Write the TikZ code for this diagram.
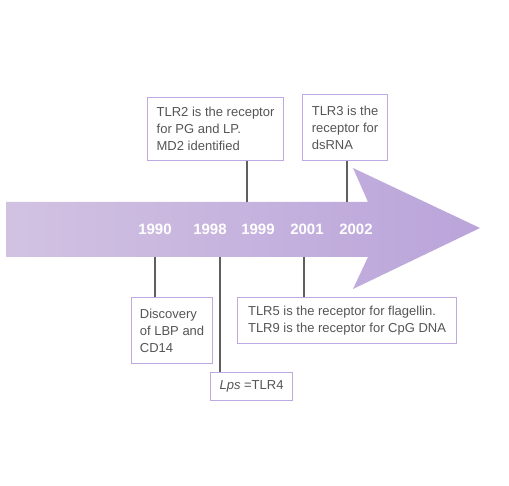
\documentclass[tikz,border=0pt]{standalone}
\usepackage{fontspec}
\setmainfont{Liberation Sans}
\definecolor{boxc}{RGB}{192,168,226}
\definecolor{linec}{RGB}{95,95,95}
\definecolor{txtc}{RGB}{85,85,85}
\definecolor{arrL}{RGB}{210,194,226}
\definecolor{arrM}{RGB}{206,166,220}
\definecolor{arrR}{RGB}{186,164,218}
\tikzset{
  note/.style={draw=boxc, line width=1.1pt, fill=white, anchor=north west, align=left,
    inner sep=0pt, font=\fontsize{13}{17}\selectfont, text=txtc},
  yearlbl/.style={text=white, font=\bfseries\fontsize{15}{16}\selectfont, inner sep=0pt},
  tick/.style={draw=linec, line width=1.4pt}
}
\begin{document}
\begin{tikzpicture}[x=1pt,y=-1pt]
\useasboundingbox (0,0) rectangle (509,486);
% arrow
\shade[left color=arrL, middle color=arrM, right color=arrR]
  (6,202) -- (368,202) -- (353,168) -- (480,228) -- (353,289) -- (368,257) -- (6,257) -- cycle;
% years
\node[yearlbl] (y1990) at (155,229) {1990};
\node[yearlbl] (y1998) at (210,229) {1998};
\node[yearlbl] (y1999) at (258,229) {1999};
\node[yearlbl] (y2001) at (307,229) {2001};
\node[yearlbl] (y2002) at (356,229) {2002};
% notes
\node[note, minimum width=136pt, minimum height=63pt] (n1999) at (147,97)
  {TLR2 is the receptor\\for PG and LP.\\MD2 identified};
\node[note, minimum width=85pt, minimum height=66pt] (n2002) at (302,94)
  {TLR3 is the\\receptor for\\dsRNA};
\node[note, minimum width=81pt, minimum height=66pt] (n1990) at (131,297)
  {Discovery\\of LBP and\\CD14};
\node[note, minimum width=82pt, minimum height=28pt] (n1998) at (210,372)
  {\textit{Lps} =TLR4};
\node[note, minimum width=219pt, minimum height=46pt] (n2001) at (237,297)
  {TLR5 is the receptor for flagellin.\\TLR9 is the receptor for CpG DNA};
% connector ends on the arrow
\coordinate (c1990) at (155,257);
\coordinate (c1998) at (220,257);
\coordinate (c2001) at (304,257);
\coordinate (c1999) at (247,202);
\coordinate (c2002) at (347,202);
\draw[tick] (c1990) -- (n1990.north -| c1990);
\draw[tick] (c1998) -- (n1998.north -| c1998);
\draw[tick] (c2001) -- (n2001.north -| c2001);
\draw[tick] (c1999) -- (n1999.south -| c1999);
\draw[tick] (c2002) -- (n2002.south -| c2002);
\end{tikzpicture}
\end{document}
